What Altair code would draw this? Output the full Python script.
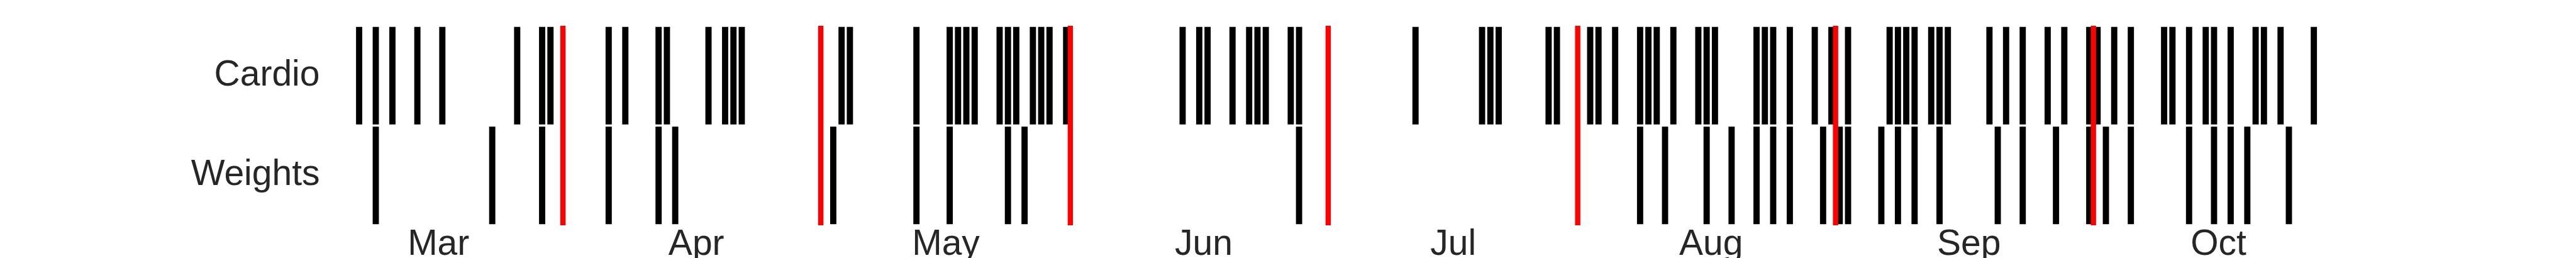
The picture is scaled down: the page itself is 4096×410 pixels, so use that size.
import altair as alt
import pandas as pd

activities = ["Cardio", "Weights"]

cardio_dates = [
    "2019-02-19", "2019-02-21", "2019-02-23", "2019-02-26",
    "2019-03-01", "2019-03-10", "2019-03-13", "2019-03-14", "2019-03-21", "2019-03-23",
    "2019-03-27", "2019-03-28",
    "2019-04-02", "2019-04-04", "2019-04-05", "2019-04-06", "2019-04-18", "2019-04-19",
    "2019-04-27",
    "2019-05-01", "2019-05-02", "2019-05-03", "2019-05-04", "2019-05-07", "2019-05-08",
    "2019-05-09", "2019-05-11", "2019-05-12", "2019-05-13", "2019-05-15", "2019-05-29",
    "2019-05-31",
    "2019-06-01", "2019-06-04", "2019-06-06", "2019-06-07", "2019-06-08", "2019-06-11",
    "2019-06-12", "2019-06-26",
    "2019-07-04", "2019-07-05", "2019-07-06", "2019-07-12", "2019-07-13", "2019-07-17",
    "2019-07-18", "2019-07-20", "2019-07-23", "2019-07-24", "2019-07-25", "2019-07-27",
    "2019-07-30", "2019-07-31",
    "2019-08-01", "2019-08-06", "2019-08-07", "2019-08-08", "2019-08-10", "2019-08-13",
    "2019-08-15", "2019-08-17", "2019-08-22", "2019-08-23", "2019-08-24", "2019-08-25",
    "2019-08-27", "2019-08-28", "2019-08-29",
    "2019-09-03", "2019-09-05", "2019-09-07", "2019-09-10", "2019-09-12", "2019-09-15",
    "2019-09-16", "2019-09-18", "2019-09-20", "2019-09-24", "2019-09-25", "2019-09-27",
    "2019-09-29", "2019-09-30",
    "2019-10-02", "2019-10-05", "2019-10-06", "2019-10-08", "2019-10-12",
]

weights_dates = [
    "2019-02-21",
    "2019-03-07", "2019-03-13", "2019-03-21", "2019-03-27", "2019-03-29",
    "2019-04-17", "2019-04-27",
    "2019-05-01", "2019-05-08", "2019-05-10",
    "2019-06-12",
    "2019-07-23", "2019-07-26", "2019-07-31",
    "2019-08-03", "2019-08-06", "2019-08-08", "2019-08-10", "2019-08-14", "2019-08-16",
    "2019-08-17", "2019-08-21", "2019-08-23", "2019-08-25", "2019-08-28",
    "2019-09-04", "2019-09-07", "2019-09-11", "2019-09-15", "2019-09-17", "2019-09-20",
    "2019-09-27", "2019-09-30",
    "2019-10-02", "2019-10-04", "2019-10-09",
]

marker_dates = [
    "2019-03-16", "2019-04-16", "2019-05-16", "2019-06-16",
    "2019-07-16", "2019-08-16", "2019-09-16",
]

month_ticks = [
    "2019-03-01", "2019-04-01", "2019-05-01", "2019-06-01",
    "2019-07-01", "2019-08-01", "2019-09-01", "2019-10-01",
]

x_range = ["2019-02-17", "2019-10-14"]


def dt(s):
    t = pd.Timestamp(s)
    return alt.DateTime(year=t.year, month=t.month, date=t.day, utc=True)


sessions = pd.DataFrame({
    "date": cardio_dates + weights_dates,
    "activity": [activities[0]] * len(cardio_dates) + [activities[1]] * len(weights_dates),
})
markers = pd.DataFrame({"date": marker_dates})

FONT = "Liberation Sans, Arial, Helvetica, sans-serif"

x_scale = alt.Scale(type="utc", domain=[dt(s) for s in x_range])
x_axis = alt.Axis(
    title=None,
    labelExpr="utcFormat(datum.value, '%b')",
    values=[dt(s) for s in month_ticks],
    labelFlush=False, labelOverlap=False, labelPadding=1,
)
y_axis = alt.Axis(title=None, labelPadding=30, labelOffset=-2)

bars = alt.Chart(sessions).mark_tick(color="#000000", opacity=1, thickness=9.9).encode(
    x=alt.X("date:T", timeUnit="utcyearmonthdate", bandPosition=0.5,
            scale=x_scale, axis=x_axis),
    y=alt.Y("activity:N", sort=activities,
            scale=alt.Scale(type="point", padding=0.5), axis=y_axis),
    size=alt.value(155),
)

rules = alt.Chart(markers).mark_rule(color="#ff0000", strokeWidth=8.4).encode(
    x=alt.X("date:T", scale=x_scale, axis=x_axis),
)

chart = alt.layer(bars, rules).properties(
    width=3161,
    height=317,
    autosize=alt.AutoSizeParams(type="none"),
    padding={"left": 530, "top": 33, "right": 380, "bottom": 52},
).configure_view(stroke=None).configure_axis(
    grid=False, domain=False, ticks=False, tickSize=0, labelLimit=0,
    labelFont=FONT, labelFontSize=57, labelColor="#262626",
)

chart.save("out.html", embed_options={"renderer": "svg", "actions": False})
